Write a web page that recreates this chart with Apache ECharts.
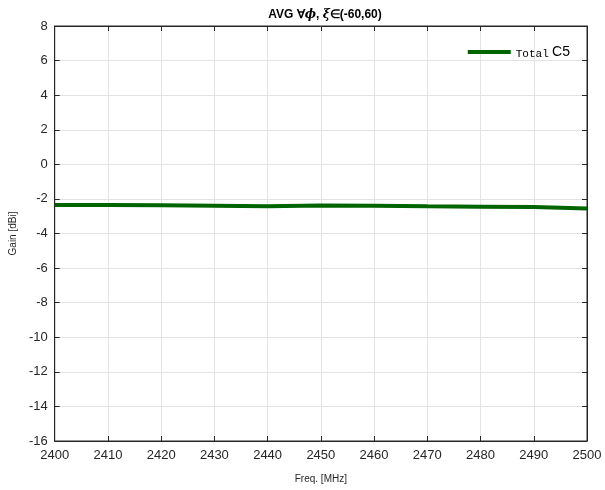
<!DOCTYPE html>
<html>
<head>
<meta charset="utf-8">
<script src="https://cdn.jsdelivr.net/npm/echarts@6/dist/echarts.min.js"></script>
<style>
  html, body { margin: 0; padding: 0; background: #fff; }
  #chart { width: 605px; height: 490px; }
</style>
</head>
<body>
<div id="chart"></div>
<script>
// Frequency sweep (MHz) and averaged total gain (dBi)
const freqs = [2400, 2410, 2420, 2430, 2440, 2450, 2460, 2470, 2480, 2490, 2500];
const gainTotalC5 = [-2.35, -2.35, -2.37, -2.39, -2.42, -2.38, -2.40, -2.43, -2.45, -2.47, -2.55];
const yTicks = [-16, -14, -12, -10, -8, -6, -4, -2, 0, 2, 4, 6, 8];

const chart = echarts.init(document.getElementById('chart'), null, { renderer: 'canvas' });
const font = 'Liberation Sans, Arial, sans-serif';
const axisColor = '#262626';
const gridColor = '#e3e3e3';
const plain = v => String(v);

const option = {
  animation: false,
  backgroundColor: '#fff',
  title: {
    text: '{n|AVG ∀}{i|ϕ}{n|, }{i|ξ}{n|∈(-60,60)}',
    left: 320,
    textAlign: 'center',
    top: 4,
    textStyle: {
      rich: {
        n: { fontFamily: font, fontSize: 12, fontWeight: 'bold', color: '#000' },
        i: { fontFamily: 'DejaVu Serif, serif', fontSize: 12, fontStyle: 'italic', color: '#000' }
      }
    }
  },
  legend: {
    right: 30,
    top: 40,
    icon: 'rect',
    itemWidth: 43,
    itemHeight: 4,
    itemGap: 4,
    data: ['Total C5'],
    formatter: function () { return '{m|Total} {s|C5}'; },
    textStyle: {
      rich: {
        m: { fontFamily: 'Liberation Mono, DejaVu Sans Mono, monospace', fontSize: 11, color: '#000', padding: [4, 0, 0, 0] },
        s: { fontFamily: font, fontSize: 14, color: '#000' }
      }
    }
  },
  grid: { left: 53, right: 18, top: 26, bottom: 49, show: true, borderColor: axisColor, borderWidth: 1 },
  xAxis: [{
    type: 'value',
    min: 2400, max: 2500, interval: 10,
    name: 'Freq. [MHz]',
    nameLocation: 'middle',
    nameGap: 33,
    nameTextStyle: { fontFamily: font, fontSize: 10, color: '#262626' },
    axisLine: { show: true, onZero: false, lineStyle: { color: axisColor, width: 1 } },
    axisTick: { show: true, inside: true, length: 5, lineStyle: { color: axisColor } },
    axisLabel: { fontFamily: font, fontSize: 13, color: '#262626', margin: 8, formatter: plain },
    splitLine: { show: true, lineStyle: { color: gridColor, width: 1 } }
  }, {
    type: 'value', position: 'top',
    min: 2400, max: 2500, interval: 10,
    axisLine: { show: true, onZero: false, lineStyle: { color: axisColor, width: 1 } },
    axisTick: { show: true, inside: true, length: 5, lineStyle: { color: axisColor } },
    axisLabel: { show: false },
    splitLine: { show: false }
  }],
  yAxis: [{
    type: 'value',
    min: yTicks[0], max: yTicks[yTicks.length - 1], interval: 2,
    name: 'Gain [dBi]',
    nameLocation: 'middle',
    nameGap: 30,
    nameTextStyle: { fontFamily: font, fontSize: 10, color: '#262626' },
    axisLine: { show: true, onZero: false, lineStyle: { color: axisColor, width: 1 } },
    axisTick: { show: true, inside: true, length: 5, lineStyle: { color: axisColor } },
    axisLabel: { fontFamily: font, fontSize: 13, color: '#262626', margin: 7, formatter: plain },
    splitLine: { show: true, lineStyle: { color: gridColor, width: 1 } }
  }, {
    type: 'value', position: 'right',
    min: yTicks[0], max: yTicks[yTicks.length - 1], interval: 2,
    axisLine: { show: true, onZero: false, lineStyle: { color: axisColor, width: 1 } },
    axisTick: { show: true, inside: true, length: 5, lineStyle: { color: axisColor } },
    axisLabel: { show: false },
    splitLine: { show: false }
  }],
  series: [{
    name: 'Total C5',
    type: 'line',
    xAxisIndex: 0,
    yAxisIndex: 0,
    data: freqs.map((f, i) => [f, gainTotalC5[i]]),
    showSymbol: false,
    symbol: 'none',
    lineStyle: { color: '#006400', width: 4 },
    itemStyle: { color: '#006400' }
  }]
};

chart.setOption(option);
</script>
</body>
</html>
